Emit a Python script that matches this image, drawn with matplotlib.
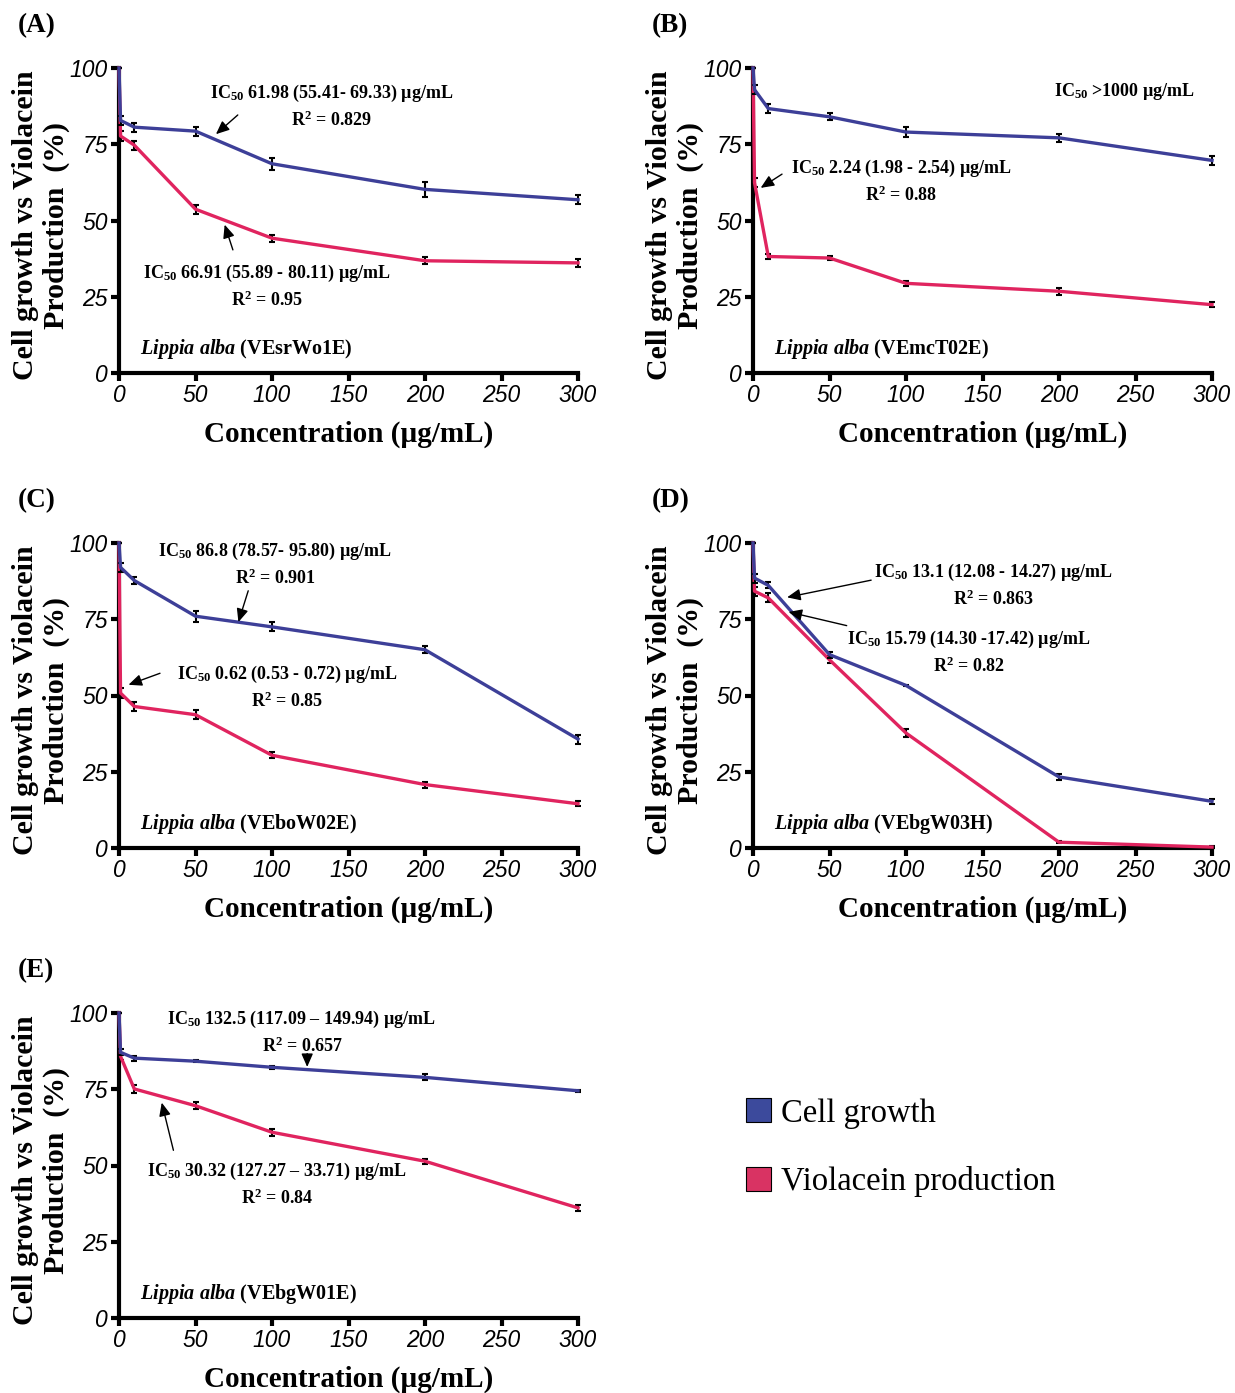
import numpy as np
import matplotlib
matplotlib.use('Agg')
import matplotlib.pyplot as plt
from matplotlib.patches import Patch

plt.rcParams['font.family'] = 'Liberation Sans'
plt.rcParams['mathtext.fontset'] = 'custom'
plt.rcParams['mathtext.rm'] = 'Liberation Serif:bold'
plt.rcParams['mathtext.bf'] = 'Liberation Serif:bold'
plt.rcParams['mathtext.it'] = 'Liberation Serif:italic:bold'

# concentrations (µg/mL); 0 is the untreated control
conc = [0, 1, 10, 50, 100, 200, 300]

# (A) VEsrWo1E
a_growth = [100, 82.8, 80.6, 79.3, 68.6, 60.2, 56.8]
a_growth_err = [0, 1.5, 1.5, 1.5, 2.0, 2.5, 1.5]
a_viol = [100, 77.7, 74.7, 53.7, 44.2, 36.8, 36.1]
a_viol_err = [0, 1.5, 1.5, 1.5, 1.2, 1.2, 1.2]

# (B) VEmcT02E
b_growth = [100, 92.9, 86.7, 84.0, 79.0, 77.1, 69.7]
b_growth_err = [0, 1.5, 1.5, 1.2, 1.5, 1.2, 1.5]
b_viol = [100, 62.4, 38.2, 37.7, 29.4, 26.8, 22.4]
b_viol_err = [0, 1.5, 0.8, 0.5, 0.8, 1.2, 0.8]

# (C) VEboW02E
c_growth = [100, 92.0, 87.7, 76.0, 72.5, 65.0, 35.7]
c_growth_err = [0, 1.5, 1.0, 1.8, 1.5, 1.2, 1.5]
c_viol = [100, 50.8, 46.4, 43.7, 30.4, 20.8, 14.5]
c_viol_err = [0, 1.5, 1.5, 1.5, 1.0, 1.0, 0.8]

# (D) VEbgW03H
d_growth = [100, 88.5, 86.1, 63.4, 53.3, 23.3, 15.3]
d_growth_err = [0, 1.5, 1.0, 1.0, 0.3, 1.0, 0.8]
d_viol = [100, 84.2, 82.0, 61.7, 37.7, 1.9, 0.3]
d_viol_err = [0, 1.5, 1.5, 1.2, 1.3, 0.3, 0.3]

# (E) VEbgW01E
e_growth = [100, 87.1, 85.2, 84.2, 82.2, 78.9, 74.5]
e_growth_err = [0, 1.0, 0.8, 0.4, 0.4, 1.0, 0.4]
e_viol = [100, 85.8, 75.1, 69.6, 60.9, 51.4, 36.1]
e_viol_err = [0, 1.2, 1.2, 1.2, 1.2, 0.8, 1.0]

BLUE = '#3d3f98'
PINK = '#e0245f'
SERIF = 'Liberation Serif'

W, H = 1235, 1393


def ax_rect(left_px, xaxis_px):
    return [left_px / W, (H - xaxis_px) / H, 459 / W, 305 / H]


def draw_panel(ax, growth, gerr, viol, verr, letter, strain, notes):
    ax.errorbar(conc, viol, yerr=verr, color=PINK, lw=2.4, ecolor='black',
                elinewidth=1.5, capsize=2.5, capthick=1.5, zorder=3, clip_on=False)
    ax.errorbar(conc, growth, yerr=gerr, color=BLUE, lw=2.4, ecolor='black',
                elinewidth=1.5, capsize=2.5, capthick=1.5, zorder=4, clip_on=False)
    ax.set_xlim(0, 300)
    ax.set_ylim(0, 100)
    ax.set_xticks([0, 50, 100, 150, 200, 250, 300])
    ax.set_yticks([0, 25, 50, 75, 100])
    for s in ['top', 'right']:
        ax.spines[s].set_visible(False)
    for s in ['left', 'bottom']:
        ax.spines[s].set_linewidth(3)
    ax.tick_params(direction='out', length=6, width=3, labelsize=16.5, pad=2)
    for lab in ax.get_xticklabels() + ax.get_yticklabels():
        lab.set_fontstyle('italic')
    ax.set_xlabel('Concentration (µg/mL)', family=SERIF, fontweight='bold', fontsize=21)
    ax.xaxis.set_label_coords(0.5, -0.155)
    ax.set_ylabel('Cell growth vs Violacein\nProduction  (%)', family=SERIF,
                  fontweight='bold', fontsize=21.5, linespacing=1.2)
    ax.yaxis.set_label_coords(-0.106, 0.485)
    ax.text(14, 8, r'$\mathit{Lippia\ alba}$ (' + strain + ')', family=SERIF,
            fontweight='bold', fontsize=14.5, va='center', ha='left')
    ax.text(-0.22, 1.14, '(' + letter + ')', transform=ax.transAxes, family=SERIF,
            fontweight='bold', fontsize=19.5, va='center', ha='left')
    for txt, r2, pos, tail, tip in notes:
        ax.text(pos[0], pos[1], txt, family=SERIF, fontweight='bold', fontsize=13,
                ha='center', va='center')
        if r2:
            ax.text(pos[0], pos[1] - 8.8, r2, family=SERIF, fontweight='bold',
                    fontsize=13, ha='center', va='center')
        if tail:
            ax.annotate('', xy=tip, xytext=tail,
                        arrowprops=dict(arrowstyle='-|>,head_length=0.8,head_width=0.35',
                                        color='black', lw=1), zorder=5)


fig = plt.figure(figsize=(W / 100, H / 100), dpi=100)

axA = fig.add_axes(ax_rect(119, 373))
draw_panel(axA, a_growth, a_growth_err, a_viol, a_viol_err, 'A', 'VEsrWo1E', [
    (r'IC$_{50}$ 61.98 (55.41- 69.33) µg/mL', r'R$^{2}$ = 0.829', (139, 91.5), (79, 85.2), (62, 77.7)),
    (r'IC$_{50}$ 66.91 (55.89 - 80.11) µg/mL', r'R$^{2}$ = 0.95', (97, 32.8), (75, 39.5), (68.5, 49.5)),
])

axB = fig.add_axes(ax_rect(753, 373))
draw_panel(axB, b_growth, b_growth_err, b_viol, b_viol_err, 'B', 'VEmcT02E', [
    (r'IC$_{50}$ >1000 µg/mL', None, (243, 92.4), None, None),
    (r'IC$_{50}$ 2.24 (1.98 - 2.54) µg/mL', r'R$^{2}$ = 0.88', (97, 67.1), (20.5, 65.7), (3.5, 60.2)),
])

axC = fig.add_axes(ax_rect(119, 848))
draw_panel(axC, c_growth, c_growth_err, c_viol, c_viol_err, 'C', 'VEboW02E', [
    (r'IC$_{50}$ 86.8 (78.57- 95.80) µg/mL', r'R$^{2}$ = 0.901', (102, 97.3), (85, 85.2), (77.5, 73.2)),
    (r'IC$_{50}$ 0.62 (0.53 - 0.72) µg/mL', r'R$^{2}$ = 0.85', (110, 56.8), (28.5, 57.6), (4.5, 53.2)),
])

axD = fig.add_axes(ax_rect(753, 848))
draw_panel(axD, d_growth, d_growth_err, d_viol, d_viol_err, 'D', 'VEbgW03H', [
    (r'IC$_{50}$ 13.1 (12.08 - 14.27) µg/mL', r'R$^{2}$ = 0.863', (157, 90.2), (79, 88.0), (20.5, 82.0)),
    (r'IC$_{50}$ 15.79 (14.30 -17.42) µg/mL', r'R$^{2}$ = 0.82', (141, 68.3), (63, 72.7), (21.5, 77.6)),
])

axE = fig.add_axes(ax_rect(119, 1318))
draw_panel(axE, e_growth, e_growth_err, e_viol, e_viol_err, 'E', 'VEbgW01E', [
    (r'IC$_{50}$ 132.5 (117.09 – 149.94) µg/mL', r'R$^{2}$ = 0.657', (119.5, 98), (123, 87.6), (123, 81.4)),
    (r'IC$_{50}$ 30.32 (127.27 – 33.71) µg/mL', r'R$^{2}$ = 0.84', (103.5, 48.1), (36, 54.1), (27.5, 71.5)),
])

handles = [Patch(facecolor='#3c4a9c', edgecolor='black', lw=0.8),
           Patch(facecolor='#d93363', edgecolor='black', lw=0.8)]
fig.legend(handles, ['Cell growth', 'Violacein production'], loc='upper left',
           bbox_to_anchor=(733 / W, 1 - 1085 / H), frameon=False,
           prop={'family': SERIF, 'size': 23.5}, handlelength=0.77, handleheight=0.77,
           handletextpad=0.3, labelspacing=1.15, borderaxespad=0)

fig.savefig('out.png', dpi=100)
